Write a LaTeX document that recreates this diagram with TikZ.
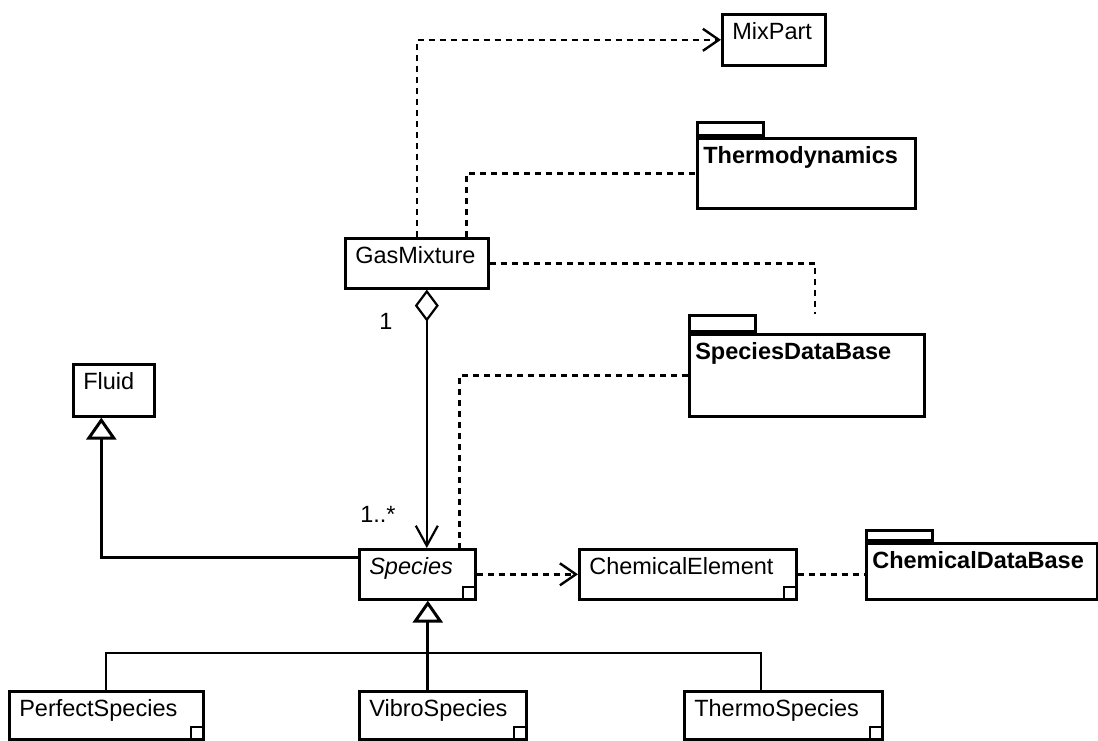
\documentclass[tikz,border=0pt]{standalone}
\usepackage{fontspec}
\setmainfont{Liberation Sans}
\usetikzlibrary{arrows.meta}

\tikzset{
  umlclass/.style={draw, line width=2.6pt, anchor=north west, align=left, inner xsep=10pt, inner ysep=8pt, text height=17pt, text width=#1, font=\fontsize{23.5}{26}\selectfont},
  umlpkg/.style={umlclass=#1, inner xsep=6pt, font=\fontsize{23.5}{26}\selectfont\bfseries},
  pkgtab/.style={draw, line width=2.6pt, anchor=south west, inner sep=0pt, minimum width=66pt, minimum height=#1},
  cornerbox/.style={draw, line width=2pt, anchor=south east, inner sep=0pt, minimum size=13pt},
  depline/.style={line width=2.4pt, dash pattern=on 6pt off 5pt},
  depend/.style={depline, -{Straight Barb[length=16pt,width=22pt]}},
  genline/.style={line width=3pt, -{Triangle[open,length=22pt,width=30pt]}},
  mult/.style={font=\fontsize{23.5}{26}\selectfont, inner sep=0pt}
}

\begin{document}
\begin{tikzpicture}[x=1pt,y=1pt,yscale=-1,xscale=1]
\useasboundingbox (0,0) rectangle (1098,740);

%Shape: Class [MixPart]
\node[umlclass=83pt, text depth=18pt] (mixpart) at (721,13) {MixPart};
%Shape: Package [Thermodynamics]
\node[umlpkg=206pt, text depth=37pt] (thermodyn) at (696,137) {Thermodynamics};
\node[pkgtab=13pt] (thermodyntab) at (thermodyn.north west) {};
%Shape: Class [GasMixture]
\node[umlclass=123pt, text depth=17pt] (gasmix) at (344,237) {GasMixture};
%Shape: Package [SpeciesDataBase]
\node[umlpkg=223pt, text depth=49pt] (specdb) at (688,333) {SpeciesDataBase};
\node[pkgtab=16pt] (specdbtab) at (specdb.north west) {};
%Shape: Class [Fluid]
\node[umlclass=61pt, text depth=19pt] (fluid) at (72,363) {Fluid};
%Shape: Class [Species]
\node[umlclass=96pt, text depth=17pt] (species) at (358,548) {\itshape Species};
\node[cornerbox] (speciescorner) at (species.south east) {};
%Shape: Class [ChemicalElement]
\node[umlclass=197pt, text depth=17pt] (chemel) at (578,548) {ChemicalElement};
\node[cornerbox] (chemelcorner) at (chemel.south east) {};
%Shape: Package [ChemicalDataBase]
\node[umlpkg=219pt, text depth=23pt] (chemdb) at (865,542) {ChemicalDataBase};
\node[pkgtab=10pt] (chemdbtab) at (chemdb.north west) {};
%Shape: Class [PerfectSpecies]
\node[umlclass=174pt, text depth=15pt] (perfect) at (8,690) {PerfectSpecies};
\node[cornerbox] (perfectcorner) at (perfect.south east) {};
%Shape: Class [VibroSpecies]
\node[umlclass=147pt, text depth=15pt] (vibro) at (358,690) {VibroSpecies};
\node[cornerbox] (vibrocorner) at (vibro.south east) {};
%Shape: Class [ThermoSpecies]
\node[umlclass=178pt, text depth=15pt] (thermosp) at (683,690) {ThermoSpecies};
\node[cornerbox] (thermospcorner) at (thermosp.south east) {};

% Dependencies
\draw[depend] (gasmix.north) |- (mixpart.west);
\draw[depline] ([xshift=-23pt]gasmix.north east) |- (thermodyn.west);
\draw[depline] (gasmix.east) -| ([xshift=127pt]specdbtab.north west);
\draw[depline] (specdb.west) -| ([xshift=-17pt]species.north east);
\draw[depend] (species.east) -- (chemel.west);
\draw[depline] (chemel.east) -- (chemel.east -| chemdb.west);

% Aggregation
\coordinate (aggtop) at ([xshift=10pt]gasmix.south);
\draw[line width=2.2pt, {Diamond[open,length=32pt,width=24pt]}-{Straight Barb[length=20pt,width=22pt]}] (aggtop) -- (aggtop |- species.north);
% Text Node
\node[mult] (multone) at (386,321) {1};
% Text Node
\node[mult] (multmany) at (378,514) {1..*};

% Generalizations
\draw[genline] ([yshift=-17pt]species.west) -| ([xshift=-12.5pt]fluid.south);
\coordinate (gentop) at ([xshift=-15pt]vibro.north);
\draw[genline] (gentop) -- (gentop |- species.south);
\draw[line width=2.2pt] (perfect.north) -- ++(0,-37) -| ([xshift=-22pt]thermosp.north);

\end{tikzpicture}
\end{document}
